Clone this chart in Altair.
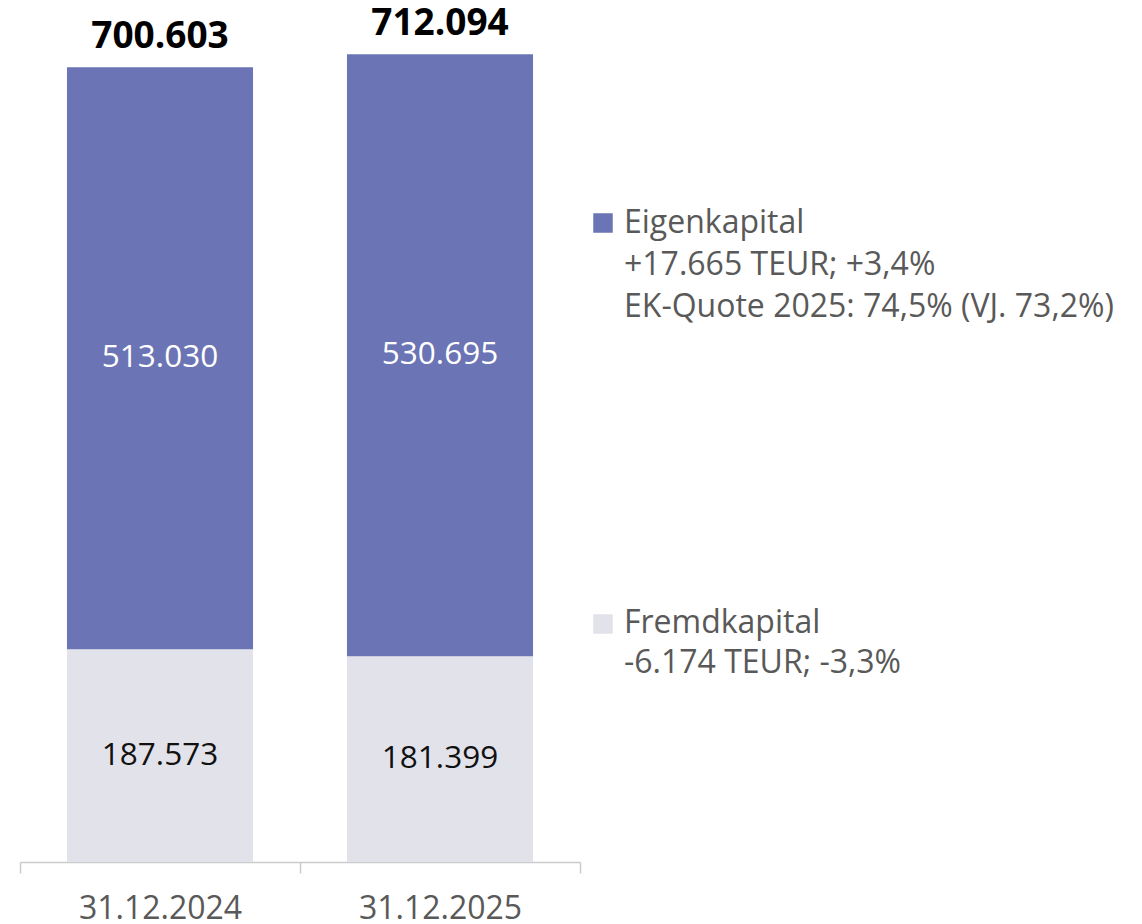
import altair as alt
import pandas as pd

# ---- data ----
dates = ["31.12.2024", "31.12.2025"]
series = ["Fremdkapital", "Eigenkapital"]
fremdkapital = [187.573, 181.399]
eigenkapital = [513.030, 530.695]
fremd_labels = ["187.573", "181.399"]
eigen_labels = ["513.030", "530.695"]
total_labels = ["700.603", "712.094"]
colors = ["#E2E2EB", "#6B74B4"]
legend_eigen = ["Eigenkapital", "+17.665 TEUR; +3,4%", "EK-Quote 2025: 74,5% (VJ. 73,2%)"]
legend_fremd = ["Fremdkapital", "-6.174 TEUR; -3,3%"]

FONT = "Open Sans"
GREY = "#595959"

rows = []
for i, d in enumerate(dates):
    f = fremdkapital[i]
    e = eigenkapital[i]
    rows.append(dict(date=d, series="Fremdkapital", start=0.0, end=f, mid=f / 2, label=fremd_labels[i]))
    rows.append(dict(date=d, series="Eigenkapital", start=f, end=f + e, mid=f + e / 2, label=eigen_labels[i]))
seg = pd.DataFrame(rows)
tot = pd.DataFrame(dict(date=dates, total=[fremdkapital[i] + eigenkapital[i] for i in range(2)], label=total_labels))

PLOT_W, PLOT_H = 560, 844
yscale = alt.Scale(domain=[0, 744], nice=False, zero=True)
xscale = alt.Scale(domain=dates, paddingInner=0, paddingOuter=0)

xaxis = alt.Axis(
    title=None, labelAngle=0, labelFont=FONT, labelFontSize=32, labelColor=GREY,
    tickBand="extent", tickSize=11, tickColor="#CCCCCC", tickWidth=1.5,
    domainColor="#CCCCCC", domainWidth=1.5, labelPadding=20, grid=False,
)

bars = alt.Chart(seg).mark_bar(size=186).encode(
    x=alt.X("date:N", scale=xscale, axis=xaxis, sort=dates),
    y=alt.Y("start:Q", scale=yscale, axis=None),
    y2="end:Q",
    color=alt.Color("series:N", scale=alt.Scale(domain=series, range=colors), legend=None),
)

seg_text = alt.Chart(seg).mark_text(font=FONT, fontSize=31.5, baseline="middle").encode(
    x=alt.X("date:N", scale=xscale, sort=dates),
    y=alt.Y("mid:Q", scale=yscale),
    text="label:N",
    color=alt.condition(alt.datum.series == "Eigenkapital", alt.value("#FFFFFF"), alt.value("#111111")),
)

tot_text = alt.Chart(tot).mark_text(font=FONT, fontSize=37, fontWeight="bold", baseline="alphabetic", dy=-19, color="#000000").encode(
    x=alt.X("date:N", scale=xscale, sort=dates),
    y=alt.Y("total:Q", scale=yscale),
    text="label:N",
)

# ---- legend (custom) ----
legend_layers = []
LX = 604
sq_e = alt.Chart(pd.DataFrame({"s": ["Eigenkapital"]})).mark_square(size=380, opacity=1, color=colors[1]).encode(
    x=alt.value(LX - 21), y=alt.value(205))
sq_f = alt.Chart(pd.DataFrame({"s": ["Fremdkapital"]})).mark_square(size=380, opacity=1, color=colors[0]).encode(
    x=alt.value(LX - 21), y=alt.value(606))
legend_layers += [sq_e, sq_f]
for k, line in enumerate(legend_eigen):
    legend_layers.append(
        alt.Chart(pd.DataFrame({"t": [line]})).mark_text(font=FONT, fontSize=32, align="left", baseline="alphabetic", color=GREY).encode(
            x=alt.value(LX), y=alt.value(215 + 42 * k), text="t:N")
    )
for k, line in enumerate(legend_fremd):
    legend_layers.append(
        alt.Chart(pd.DataFrame({"t": [line]})).mark_text(font=FONT, fontSize=32, align="left", baseline="alphabetic", color=GREY).encode(
            x=alt.value(LX), y=alt.value(615 + 40 * k), text="t:N")
    )

chart = alt.layer(bars, seg_text, tot_text, *legend_layers).properties(
    width=PLOT_W, height=PLOT_H,
    autosize=alt.AutoSizeParams(type="none"),
    padding={"left": 12, "top": 10, "right": 538, "bottom": 76},
).configure(background="#FFFFFF").configure_view(stroke=None, strokeWidth=0)

chart.save("out.html", embed_options={"renderer": "svg", "actions": False})
